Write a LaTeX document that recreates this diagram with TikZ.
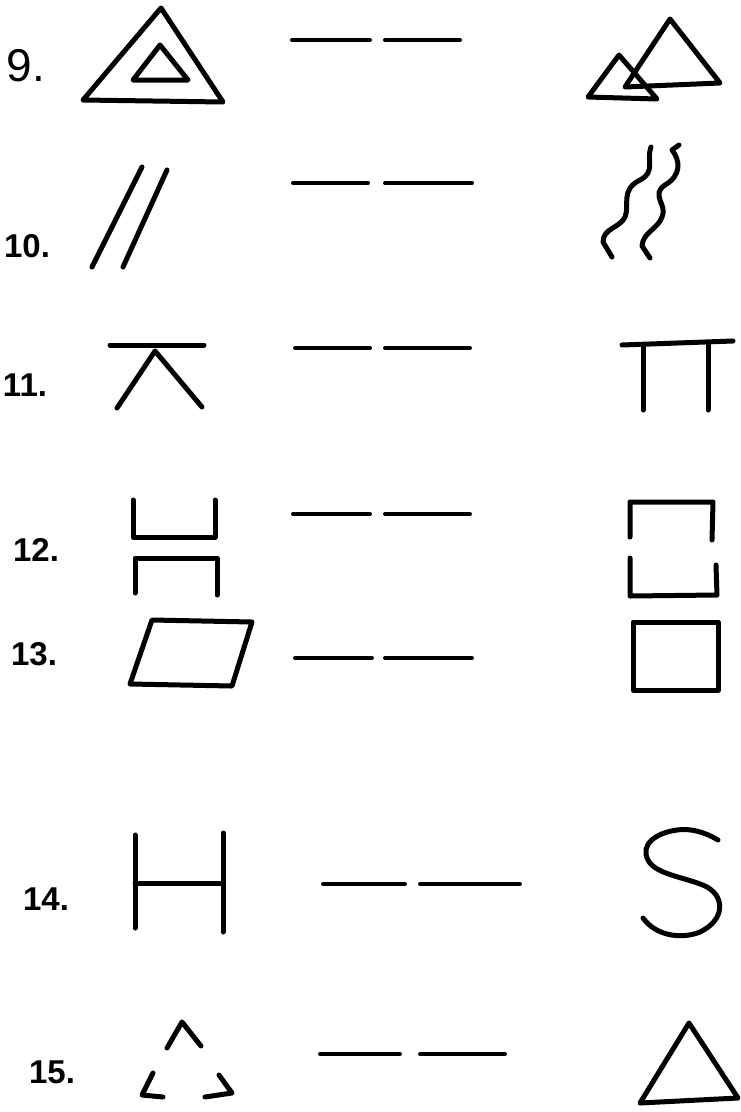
\documentclass[tikz,border=0pt]{standalone}
\usepackage{fontspec}
\setmainfont{Liberation Sans}
\usetikzlibrary{calc}

\begin{document}
\begin{tikzpicture}[
    x=1pt, y=-1pt,
    pen/.style={line width=5pt, line cap=round, line join=round},
    blank/.style={line width=4pt, line cap=round},
    num/.style={font=\fontsize{33}{33}\selectfont\bfseries, inner sep=0pt},
]
\useasboundingbox (0,0) rectangle (741,1112);
% numbers
\node[num, font=\fontsize{46}{46}\selectfont] (n9) at (26,66) {9.};
\node[num] (n10) at (27,246)  {10.};
\node[num] (n11) at (25,385)  {11.};
\node[num] (n12) at (36,550)  {12.};
\node[num] (n13) at (34,654)  {13.};
\node[num] (n14) at (46,899)  {14.};
\node[num] (n15) at (52,1072) {15.};
% blanks
\foreach \y/\xa/\xb/\xc/\xd in {40/292/370/385/460, 183/293/368/385/472,
    348/295/370/385/470, 514/293/370/385/470, 658/295/372/385/472,
    884/323/405/420/520, 1054/320/400/420/505}{
  \draw[blank] (\xa,\y) -- (\xb,\y);
  \draw[blank] (\xc,\y) -- (\xd,\y);
}
% 9: triangle in triangle, two hills
\draw[pen] (161,8) -- (223,102) -- (83,100) -- cycle;
\draw[pen] (160,45) -- (188,80) -- (133,80) -- cycle;
\draw[pen] (670,19) -- (720,83) -- (625,87) -- cycle;
\draw[pen] (619,55) -- (657,99) -- (588,97) -- cycle;
% 10: two strokes, two waves
\draw[pen] (142,167) -- (92,267);
\draw[pen] (167,170) -- (123,267);
\draw[pen] (651,147) .. controls (646,160) and (656,172) .. (640,180)
  .. controls (620,190) and (630,205) .. (625,217)
  .. controls (620,228) and (603,228) .. (603,242) -- (612,257);
\draw[pen] (679,145) -- (672,150) .. controls (680,160) and (682,175) .. (665,185)
  .. controls (650,195) and (668,205) .. (662,217)
  .. controls (657,230) and (643,232) .. (642,246) -- (650,258);
% 11: bar over caret, table
\draw[pen] (110,345) -- (204,345);
\draw[pen] (117,408) -- (155,351) -- (202,407);
\draw[pen] (622,345) -- (733,341);
\draw[pen] (643,347) -- (643,410);
\draw[pen] (708,344) -- (708,410);
% 12: cup over cap, broken box
\draw[pen] (133,500) -- (133,537) -- (215,537) -- (215,500);
\draw[pen] (135,593) -- (135,558) -- (217,558) -- (217,595);
\draw[pen] (630,537) -- (630,502) -- (713,502) -- (712,540);
\draw[pen] (630,558) -- (630,596) -- (717,595) -- (716,565);
% 13: slanted box, box
\draw[pen] (152,620) -- (252,622) -- (232,686) -- (130,684) -- cycle;
\draw[pen] (633,622) rectangle (718,690);
% 14: H, S
\draw[pen] (135,835) -- (135,928);
\draw[pen] (223,833) -- (223,932);
\draw[pen] (135,883) -- (223,883);
\draw[pen] (718,840) .. controls (705,832) and (690,828) .. (677,830)
  .. controls (655,833) and (640,845) .. (648,860)
  .. controls (655,875) and (690,878) .. (707,887)
  .. controls (725,897) and (725,920) .. (700,932)
  .. controls (680,940) and (655,935) .. (643,918);
% 15: broken triangle, triangle
\draw[pen] (167,1048) -- (182,1022) -- (201,1046);
\draw[pen] (153,1073) -- (142,1095) -- (163,1097);
\draw[pen] (219,1075) -- (232,1093) -- (205,1097);
\draw[pen] (689,1023) -- (738,1098) -- (640,1103) -- cycle;
\end{tikzpicture}
\end{document}
